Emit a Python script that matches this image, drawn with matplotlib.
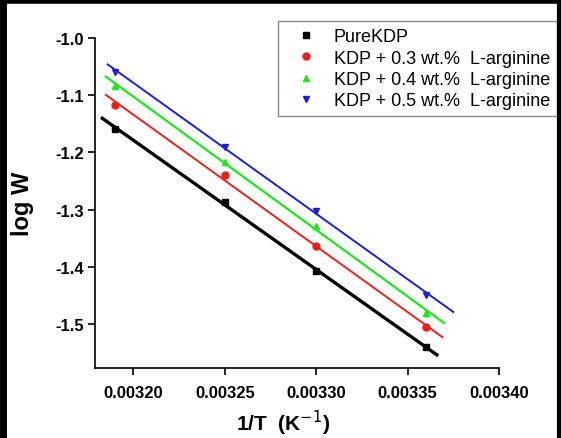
import numpy as np
import matplotlib.pyplot as plt
from matplotlib.lines import Line2D

plt.rcParams['font.family'] = ['Liberation Sans', 'DejaVu Sans']

# 1/T values (K^-1)
inv_T = [0.00319, 0.00325, 0.00330, 0.00336]

# log W for each sample
pure_kdp = [-1.159, -1.286, -1.407, -1.541]
kdp_03 = [-1.117, -1.240, -1.363, -1.506]
kdp_04 = [-1.083, -1.216, -1.329, -1.480]
kdp_05 = [-1.059, -1.190, -1.302, -1.449]

labels = ['PureKDP', 'KDP + 0.3 wt.%  L-arginine',
          'KDP + 0.4 wt.%  L-arginine', 'KDP + 0.5 wt.%  L-arginine']

series = [pure_kdp, kdp_03, kdp_04, kdp_05]
colors = ['black', '#e8201c', '#1fe51c', '#1c1fd0']
markers = ['s', 'o', '^', 'v']
line_widths = [2.4, 1.4, 1.6, 1.4]
fit_ranges = [(0.003183, 0.003366), (0.003185, 0.003369),
              (0.003185, 0.003370), (0.003186, 0.003375)]

fig = plt.figure(figsize=(5.61, 4.39), dpi=100)
ax = fig.add_axes([0.1693, 0.1595, 0.7202, 0.7515])

for y, c, m, lw, (x0, x1), lab in zip(series, colors, markers, line_widths, fit_ranges, labels):
    # linear fit through the points
    k, b = np.polyfit(inv_T, y, 1)
    xx = np.array([x0, x1])
    ax.plot(xx, k * xx + b, color=c, lw=lw, zorder=2)
    ax.plot(inv_T, y, linestyle='none', marker=m, color=c, ms=5, label=lab, zorder=3)

ax.set_xlim(0.003179, 0.00340)
ax.set_ylim(-1.577, -1.0)
ax.set_xticks([0.00320, 0.00325, 0.00330, 0.00335, 0.00340])
ax.set_xticklabels(['0.00320', '0.00325', '0.00330', '0.00335', '0.00340'])
ax.set_yticks([-1.0, -1.1, -1.2, -1.3, -1.4, -1.5])
ax.set_yticklabels(['-1.0', '-1.1', '-1.2', '-1.3', '-1.4', '-1.5'])

for s in ['top', 'right']:
    ax.spines[s].set_visible(False)
for s in ['left', 'bottom']:
    ax.spines[s].set_linewidth(1.2)
ax.tick_params(direction='out', length=5, width=1.2, labelsize=12)
ax.tick_params(axis='x', pad=7)
ax.tick_params(axis='y', pad=3)
for t in ax.get_xticklabels() + ax.get_yticklabels():
    t.set_fontweight('bold')

ax.set_xlabel('1/T  (K$^{\\rm{-1}}$)', fontsize=15, fontweight='bold')
ax.xaxis.set_label_coords(0.465, -0.122)
ax.set_ylabel('log W', fontsize=17, fontweight='bold')
ax.yaxis.set_label_coords(-0.15, 0.5)

leg = ax.legend(loc='upper right', bbox_to_anchor=(557 / 561, 1 - 22 / 439),
                bbox_transform=fig.transFigure, fontsize=13, fancybox=False,
                edgecolor='#888888', handlelength=2.4, handletextpad=0.3,
                labelspacing=0.24, borderpad=0.4, borderaxespad=0, framealpha=1)
leg.get_frame().set_linewidth(1.0)

# black frame round the picture
fig.add_artist(Line2D([0.005, 0.005], [0, 1], color='black', lw=5, transform=fig.transFigure))
fig.add_artist(Line2D([0, 1], [0.995, 0.995], color='black', lw=4, transform=fig.transFigure))
fig.add_artist(Line2D([0.997, 0.997], [0, 1], color='black', lw=3, transform=fig.transFigure))

fig.savefig('out.png', dpi=100)
